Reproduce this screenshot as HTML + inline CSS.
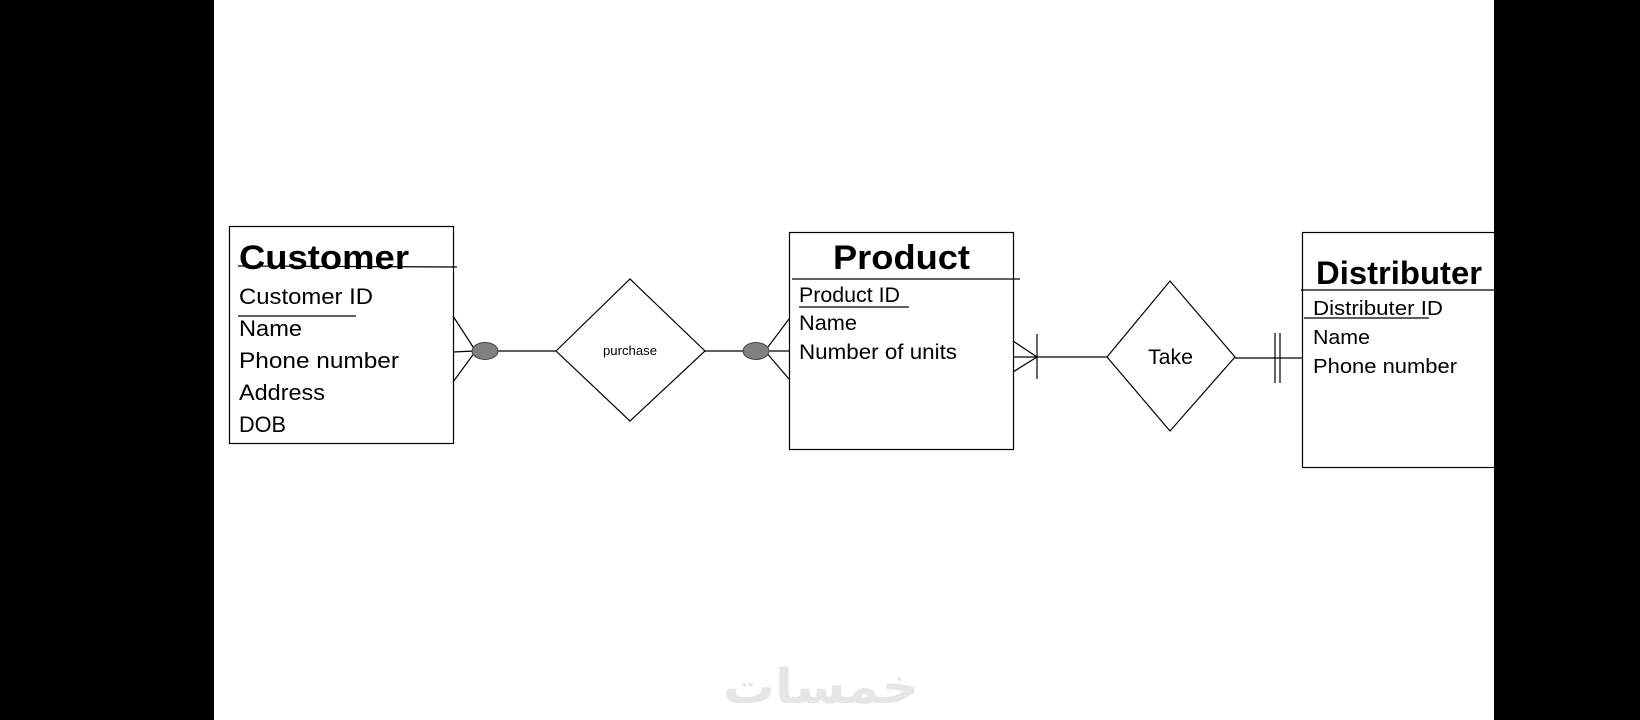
<!DOCTYPE html>
<html><head><meta charset="utf-8"><style>
html,body{margin:0;padding:0;background:#000;}
svg{display:block;}
text{font-family:"Liberation Sans",sans-serif;fill:#000;}
</style></head><body>
<svg width="1640" height="720" viewBox="0 0 1640 720" xmlns="http://www.w3.org/2000/svg">
<rect x="0" y="0" width="1640" height="720" fill="#000"/>
<rect x="214" y="0" width="1280" height="720" fill="#fff"/>
<g stroke="#000" stroke-width="1.2" fill="none">
<!-- Customer -->
<rect x="229.5" y="226.5" width="224" height="217"/>
<line x1="238" y1="266" x2="457" y2="267"/>
<line x1="238" y1="316" x2="356" y2="316"/>
<line x1="453" y1="316" x2="475" y2="350"/>
<line x1="453" y1="352" x2="475" y2="351"/>
<line x1="453" y1="382" x2="475" y2="352"/>
<line x1="497" y1="351" x2="556" y2="351"/>
<polygon points="556,351 630,279 705,351 630,421"/>
<line x1="705" y1="351" x2="743" y2="351"/>
<line x1="765" y1="351" x2="789" y2="319"/>
<line x1="765" y1="351" x2="789" y2="351"/>
<line x1="765" y1="351" x2="789" y2="379"/>
<!-- Product -->
<rect x="789.5" y="232.5" width="224" height="217"/>
<line x1="792" y1="279" x2="1020" y2="279"/>
<line x1="799" y1="307" x2="909" y2="307"/>
<line x1="1013" y1="341" x2="1037" y2="357"/>
<line x1="1013" y1="372" x2="1037" y2="357"/>
<line x1="1013" y1="357" x2="1107" y2="357"/>
<line x1="1037" y1="334" x2="1037" y2="379"/>
<polygon points="1107,357 1170,281 1235,357 1170,431"/>
<line x1="1235" y1="358" x2="1302" y2="358"/>
<line x1="1275" y1="333" x2="1275" y2="383"/>
<line x1="1280" y1="333" x2="1280" y2="383"/>
<!-- Distributer -->
<rect x="1302.5" y="232.5" width="200" height="235"/>
<line x1="1301" y1="290" x2="1494" y2="290"/>
<line x1="1304" y1="318" x2="1429" y2="318"/>
</g>
<ellipse cx="485" cy="351" rx="13" ry="8.5" fill="#808080" stroke="#444" stroke-width="1"/>
<ellipse cx="756" cy="351" rx="13" ry="8.5" fill="#808080" stroke="#444" stroke-width="1"/>
<rect x="1494" y="0" width="146" height="720" fill="#000"/>

<text x="239" y="269" font-size="34" font-weight="bold" textLength="170" lengthAdjust="spacingAndGlyphs">Customer</text>
<text x="239" y="304" font-size="22" textLength="134" lengthAdjust="spacingAndGlyphs">Customer ID</text>
<text x="239" y="336" font-size="22" textLength="63" lengthAdjust="spacingAndGlyphs">Name</text>
<text x="239" y="368" font-size="22" textLength="160" lengthAdjust="spacingAndGlyphs">Phone number</text>
<text x="239" y="400" font-size="22" textLength="86" lengthAdjust="spacingAndGlyphs">Address</text>
<text x="239" y="432" font-size="22" textLength="47" lengthAdjust="spacingAndGlyphs">DOB</text>
<text x="603" y="355" font-size="13" textLength="54" lengthAdjust="spacingAndGlyphs">purchase</text>

<text x="833" y="269" font-size="34" font-weight="bold" textLength="137" lengthAdjust="spacingAndGlyphs">Product</text>
<text x="799" y="302" font-size="21" textLength="101" lengthAdjust="spacingAndGlyphs">Product ID</text>
<text x="799" y="330" font-size="21" textLength="58" lengthAdjust="spacingAndGlyphs">Name</text>
<text x="799" y="359" font-size="21" textLength="158" lengthAdjust="spacingAndGlyphs">Number of units</text>
<text x="1148" y="364" font-size="21" textLength="45" lengthAdjust="spacingAndGlyphs">Take</text>

<text x="1316" y="284" font-size="32" font-weight="bold" textLength="166" lengthAdjust="spacingAndGlyphs">Distributer</text>
<text x="1313" y="315" font-size="20" textLength="130" lengthAdjust="spacingAndGlyphs">Distributer ID</text>
<text x="1313" y="344" font-size="20" textLength="57" lengthAdjust="spacingAndGlyphs">Name</text>
<text x="1313" y="373" font-size="20" textLength="144" lengthAdjust="spacingAndGlyphs">Phone number</text>

<text x="821" y="703" font-size="48" font-weight="bold" text-anchor="middle" style="fill:#e6e6e6;font-family:'Liberation Sans','DejaVu Sans',sans-serif" textLength="196" lengthAdjust="spacingAndGlyphs">خمسات</text>
</svg>
</body></html>
